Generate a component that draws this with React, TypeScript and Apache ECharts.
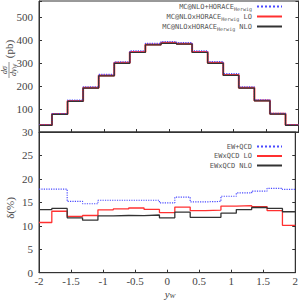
import React, { useEffect, useRef } from 'react';
import * as echarts from 'echarts';

// bin edges of the y_W histogram (bins of width 0.24 centred on 0, clipped to [-2, 2])
const binEdges = [-2, -1.8, -1.56, -1.32, -1.08, -0.84, -0.6, -0.36, -0.12, 0.12, 0.36, 0.6, 0.84, 1.08, 1.32, 1.56, 1.8, 2];

// top panel: dσ/dy_W (pb)
const xsecPlus = [31, 80, 139, 196, 251, 305, 353, 386, 393, 389, 353, 306, 254, 196, 140, 81, 31];
const xsecLO = [30, 78, 135, 192, 246, 301, 348, 381, 388, 384, 348, 301, 248, 193, 137, 79, 30];
const xsecNLO = [29, 77, 133, 191, 244, 299, 346, 379, 386, 382, 346, 299, 246, 191, 135, 78, 29];

// bottom panel: δ(%)
const deltaPlus = [17.8, 17.8, 15.2, 14.7, 15.45, 15.45, 15.45, 15.45, 14.9, 16.1, 15.1, 15.2, 16.3, 17.0, 17.4, 18.0, 17.75];
const deltaLO = [10.7, 13.1, 12.0, 12.2, 13.4, 13.6, 13.8, 13.5, 12.8, 14.0, 13.25, 13.35, 14.2, 14.3, 14.1, 13.25, 10.1];
const deltaNLO = [13.45, 13.7, 11.7, 11.2, 12.1, 12.2, 12.15, 12.3, 11.7, 12.9, 11.8, 11.8, 12.7, 13.45, 13.9, 13.7, 13.0];

const topNames = ['MC@NLO+HORACE_Herwig', 'MC@NLOxHORACE_Herwig LO', 'MC@NLOxHORACE_Herwig NLO'];
const bottomNames = ['EW+QCD', 'EWxQCD LO', 'EWxQCD NLO'];

const BLUE = '#4a4aff';
const RED = '#ff3030';
const DARK = '#333333';
const SERIF = '"Liberation Serif", "DejaVu Serif", serif';
const MONO = '"DejaVu Sans Mono", "Liberation Mono", monospace';

const steps = (vals: number[]) =>
  vals.flatMap((v, i) => [[binEdges[i], v], [binEdges[i + 1], v]]);

const legendFormatter = (name: string) => {
  const m = name.match(/^(.*)_Herwig(.*)$/);
  if (m) return `{t|${m[1]}}{s|Herwig}{t|${m[2]}}`;
  return `{t|${name}}`;
};

export default function App() {
  const ref = useRef<HTMLDivElement>(null);
  useEffect(() => {
    document.body.style.margin = '0';
    if (!ref.current) return;
    const chart = echarts.init(ref.current, undefined, { renderer: 'svg' });

    const axisLineStyle = { onZero: false, lineStyle: { color: DARK, width: 1 } };
    const tickIn = { show: true, inside: true, length: 3, lineStyle: { color: DARK, width: 1 } };
    const legendText = {
      rich: {
        t: { fontFamily: MONO, fontSize: 7, color: '#555' },
        s: { fontFamily: MONO, fontSize: 5, color: '#555', padding: [4, 0, 0, 0] },
      },
    };

    const mkSeries = (name: string, data: number[], idx: number, color: string, width: number, type: string, z: number) => ({
      name,
      type: 'line',
      xAxisIndex: idx,
      yAxisIndex: idx,
      data: steps(data),
      symbol: 'none',
      showSymbol: false,
      silent: true,
      clip: true,
      z,
      lineStyle: { color, width, type },
      itemStyle: { color },
    });

    const legendBase = {
      orient: 'vertical',
      align: 'right',
      right: 18,
      itemWidth: 25,
      itemHeight: 7,
      padding: 0,
      formatter: legendFormatter,
      textStyle: legendText,
      selectedMode: false,
      itemStyle: { opacity: 0 },
    };

    chart.setOption({
      animation: false,
      backgroundColor: '#ffffff',
      grid: [
        { left: 39, right: 2.5, top: 1, height: 131, show: true, borderColor: DARK, borderWidth: 1 },
        { left: 39, right: 2.5, top: 132, height: 140.7, show: true, borderColor: DARK, borderWidth: 1 },
      ],
      legend: [
        { ...legendBase, data: topNames, top: 3, itemGap: 2 },
        { ...legendBase, data: bottomNames, top: 143, itemGap: 2.5 },
      ],
      xAxis: [
        {
          gridIndex: 0, type: 'value', min: -2, max: 2, interval: 0.5,
          axisLine: axisLineStyle, axisTick: tickIn, axisLabel: { show: false }, splitLine: { show: false },
        },
        {
          gridIndex: 1, type: 'value', min: -2, max: 2, interval: 0.5,
          axisLine: axisLineStyle, axisTick: tickIn,
          axisLabel: { fontFamily: SERIF, fontSize: 11, color: '#444', margin: 3 },
          splitLine: { show: false },
        },
      ],
      yAxis: [
        {
          gridIndex: 0, type: 'value', min: 0, max: 570, interval: 100,
          axisLine: { show: true, ...axisLineStyle }, axisTick: tickIn,
          axisLabel: {
            fontFamily: SERIF, fontSize: 11, color: '#444', margin: 6,
            formatter: (v: number) => (v > 0 && v % 100 === 0 ? String(v) : ''),
          },
          splitLine: { show: false },
        },
        {
          gridIndex: 1, type: 'value', min: 0, max: 30, interval: 5,
          axisLine: { show: true, ...axisLineStyle }, axisTick: tickIn,
          axisLabel: { fontFamily: SERIF, fontSize: 11, color: '#444', margin: 6 },
          splitLine: { show: false },
        },
        {
          gridIndex: 0, type: 'value', position: 'right', min: 0, max: 570, interval: 100,
          axisLine: { show: true, ...axisLineStyle }, axisTick: tickIn, axisLabel: { show: false }, splitLine: { show: false },
        },
        {
          gridIndex: 1, type: 'value', position: 'right', min: 0, max: 30, interval: 5,
          axisLine: { show: true, ...axisLineStyle }, axisTick: tickIn, axisLabel: { show: false }, splitLine: { show: false },
        },
      ],
      series: [
        mkSeries(topNames[0], xsecPlus, 0, BLUE, 1.2, 'dotted', 3),
        mkSeries(topNames[1], xsecLO, 0, RED, 2, 'solid', 2),
        mkSeries(topNames[2], xsecNLO, 0, DARK, 1.2, 'solid', 4),
        mkSeries(bottomNames[0], deltaPlus, 1, BLUE, 1.2, 'dotted', 3),
        mkSeries(bottomNames[1], deltaLO, 1, RED, 1.3, 'solid', 2),
        mkSeries(bottomNames[2], deltaNLO, 1, DARK, 1.3, 'solid', 4),
      ],
      graphic: [
        {
          type: 'group', x: 9, y: 60, rotation: Math.PI / 2, silent: true,
          children: [
            { type: 'text', x: -10, y: -4.5, style: { text: 'dσ', fontFamily: SERIF, fontStyle: 'italic', fontSize: 8, fill: '#444', align: 'center', verticalAlign: 'middle' } },
            { type: 'line', shape: { x1: -18, y1: 0, x2: -2, y2: 0 }, style: { stroke: '#444', lineWidth: 0.6 } },
            {
              type: 'text', x: -10, y: 4.5,
              style: {
                text: '{i|dy}{s|W}', align: 'center', verticalAlign: 'middle', fill: '#444',
                rich: {
                  i: { fontFamily: SERIF, fontStyle: 'italic', fontSize: 8, fill: '#444' },
                  s: { fontFamily: SERIF, fontStyle: 'italic', fontSize: 5.5, fill: '#444', padding: [3, 0, 0, 0] },
                },
              },
            },
            { type: 'text', x: 11, y: 0, style: { text: '(pb)', fontFamily: SERIF, fontSize: 11, fill: '#444', align: 'center', verticalAlign: 'middle' } },
          ],
        },
        {
          type: 'text', x: 10, y: 208, rotation: Math.PI / 2, silent: true,
          style: { text: 'δ(%)', fontFamily: SERIF, fontSize: 11, fill: '#444', align: 'center', verticalAlign: 'middle' },
        },
        {
          type: 'text', x: 170, y: 294, silent: true,
          style: {
            text: '{i|y}{s|W}', align: 'center', verticalAlign: 'middle',
            rich: {
              i: { fontFamily: SERIF, fontStyle: 'italic', fontSize: 11, fill: '#444' },
              s: { fontFamily: SERIF, fontStyle: 'italic', fontSize: 7, fill: '#444', padding: [4, 0, 0, 0] },
            },
          },
        },
      ],
    });
    return () => chart.dispose();
  }, []);
  return <div ref={ref} style={{ width: 301, height: 300 }} />;
}
